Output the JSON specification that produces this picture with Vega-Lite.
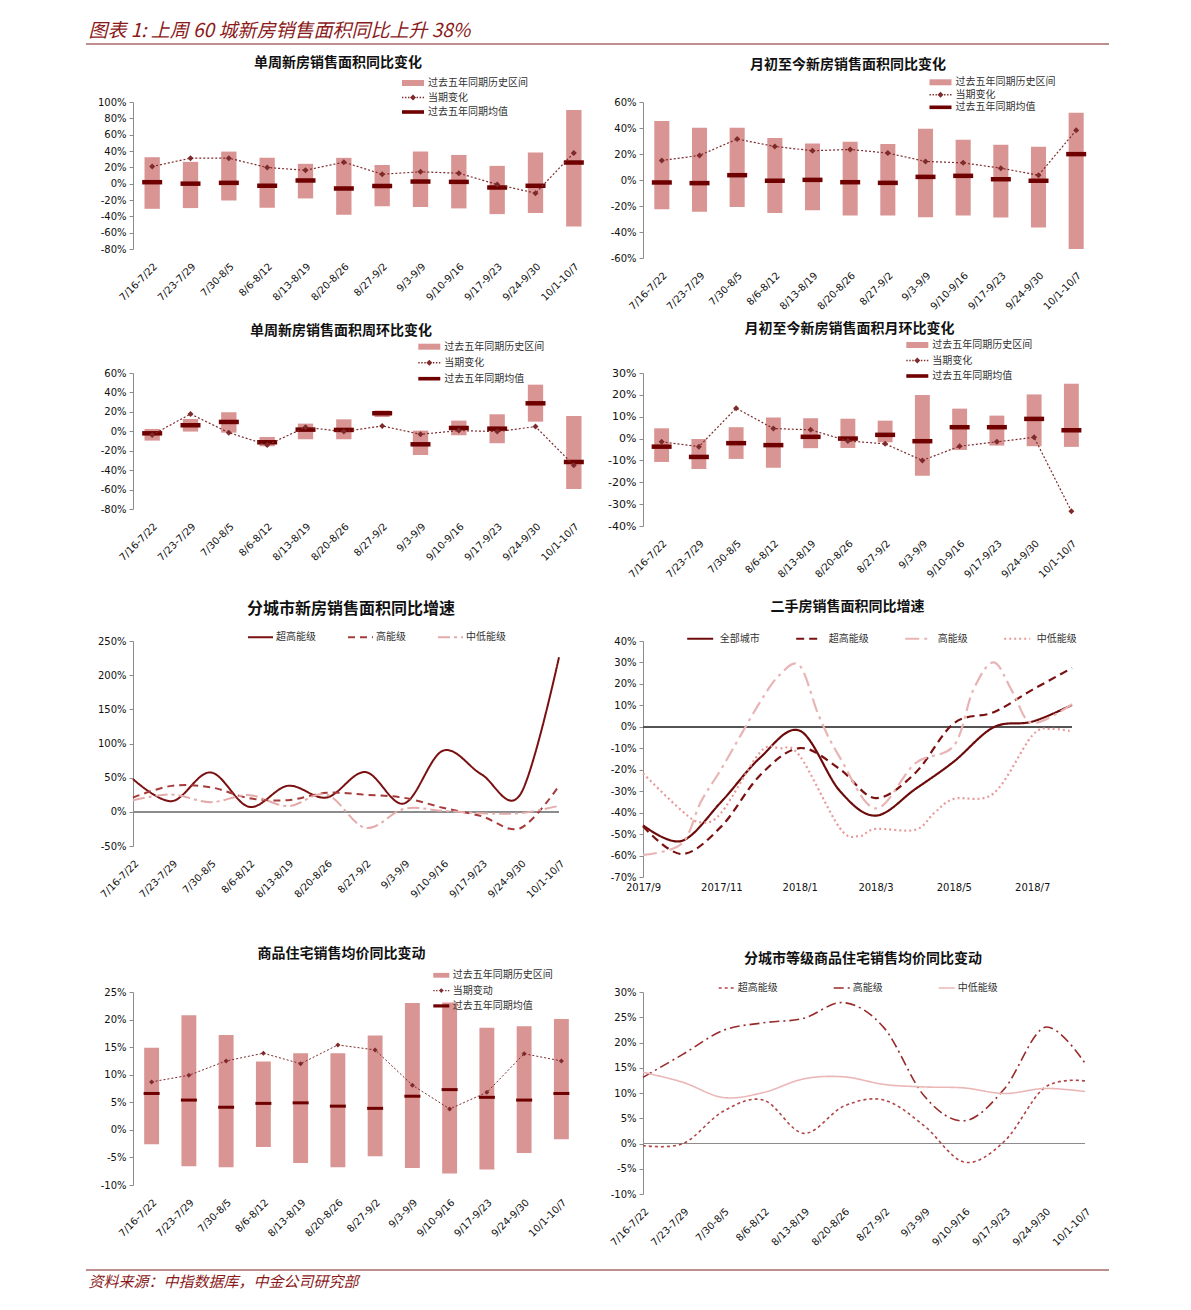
{
  "$schema": "https://vega.github.io/schema/vega-lite/v6.json",
  "background": "white",
  "padding": {"left": 85, "top": 22, "right": 5, "bottom": 5},
  "config": {
    "view": {"stroke": null},
    "font": "DejaVu Sans",
    "title": {"font": "Noto Sans CJK SC", "fontSize": 14, "fontWeight": "bold", "color": "#111111"},
    "axis": {"labelFont": "DejaVu Sans", "labelFontSize": 10, "labelColor": "#111111", "grid": false},
    "axisY": {"domainColor": "#8c8c8c", "tickColor": "#8c8c8c", "tickSize": 4, "labelPadding": 3, "labelOverlap": false},
    "axisX": {"domain": false, "ticks": false, "labelAngle": -45, "labelAlign": "right", "labelBaseline": "top", "labelPadding": 12, "labelOverlap": false},
    "legend": {"labelFont": "Noto Sans CJK SC", "labelFontSize": 10, "labelColor": "#333333", "padding": 0, "title": null}
  },
  "spacing": 11,
  "resolve": {
    "scale": {"x": "independent", "y": "independent", "color": "independent", "strokeDash": "independent"},
    "axis": {"x": "independent", "y": "independent"},
    "legend": {"color": "independent", "strokeDash": "independent"}
  },
  "vconcat": [
    {
      "width": 976, "height": 1,
      "title": {"text": "图表 1:  上周 60 城新房销售面积同比上升 38%", "anchor": "start", "dx": 3, "fontSize": 19, "fontStyle": "italic", "fontWeight": "normal", "color": "#8b1a1a", "offset": 2},
      "data": {"values": [{}]},
      "mark": {"type": "rule", "color": "#7b1f1f", "strokeWidth": 1},
      "encoding": {
        "x": {"datum": -0.0482, "type": "quantitative", "scale": {"domain": [0, 1]}, "axis": null},
        "x2": {"datum": 1},
        "y": {"datum": 0, "type": "quantitative", "scale": {"domain": [0, 1]}, "axis": null}
      }
    },
    {
      "columns": 2,
      "bounds": "flush",
      "align": {"row": "each", "column": "all"},
      "spacing": {"row": 115, "column": 50},
      "resolve": {
        "scale": {"x": "independent", "y": "independent", "color": "independent", "strokeDash": "independent"},
        "axis": {"x": "independent", "y": "independent"},
        "legend": {"color": "independent", "strokeDash": "independent"}
      },
      "concat": [
        {
          "width": 460, "height": 147,
          "title": {"text": "单周新房销售面积同比变化", "offset": 8, "dx": -25},
          "data": {"values": [
            {"w": "7/16-7/22", "lo": -30.8, "hi": 32.4, "avg": 1.8, "cur": 21.0},
            {"w": "7/23-7/29", "lo": -29.9, "hi": 26.7, "avg": 0.0, "cur": 31.2},
            {"w": "7/30-8/5", "lo": -20.6, "hi": 39.3, "avg": 1.0, "cur": 31.2},
            {"w": "8/6-8/12", "lo": -29.5, "hi": 31.6, "avg": -2.6, "cur": 19.8},
            {"w": "8/13-8/19", "lo": -18.1, "hi": 24.3, "avg": 3.9, "cur": 16.4},
            {"w": "8/20-8/26", "lo": -38.1, "hi": 31.6, "avg": -5.9, "cur": 26.3},
            {"w": "8/27-9/2", "lo": -27.5, "hi": 23.0, "avg": -3.0, "cur": 11.6},
            {"w": "9/3-9/9", "lo": -28.7, "hi": 39.3, "avg": 2.6, "cur": 14.5},
            {"w": "9/10-9/16", "lo": -30.3, "hi": 35.2, "avg": 2.2, "cur": 12.8},
            {"w": "9/17-9/23", "lo": -37.3, "hi": 21.8, "avg": -4.7, "cur": -1.0},
            {"w": "9/24-9/30", "lo": -36.0, "hi": 38.1, "avg": -2.6, "cur": -11.6},
            {"w": "10/1-10/7", "lo": -52.3, "hi": 90.2, "avg": 25.9, "cur": 37.7}
          ]},
          "encoding": {"x": {"field": "w", "type": "nominal", "sort": null, "title": null, "scale": {"paddingInner": 0, "paddingOuter": 0}}},
          "layer": [
            {"mark": {"type": "bar", "width": {"band": 0.4}},
             "encoding": {
               "y": {"field": "lo", "type": "quantitative", "title": null, "scale": {"domain": [-80, 100], "nice": false}, "axis": {"values": [-80, -60, -40, -20, 0, 20, 40, 60, 80, 100], "tickCount": 50, "labelExpr": "datum.value + '%'", "labelOverlap": false}},
               "y2": {"field": "hi"},
               "color": {"datum": "过去五年同期历史区间", "type": "nominal",
                 "scale": {"domain": ["过去五年同期历史区间", "当期变化", "过去五年同期均值"], "range": ["#d99594", "#7e2a2a", "#6e0000"]},
                 "legend": {"orient": "none", "legendX": 275, "legendY": -24, "direction": "vertical", "symbolSize": 64, "labelOffset": 10, "rowPadding": 4.5,
                   "encode": {"symbols": {"update": {
                     "shape": {"signal": "datum.value === '过去五年同期历史区间' ? 'M-2.75,-0.75H2.75V0.75H-2.75Z' : (datum.value === '过去五年同期均值' ? 'M-2.75,-0.45H2.75V0.45H-2.75Z' : 'M-2.75,-0.18h0.35v0.36h-0.35Z M-2,-0.18h0.35v0.36h-0.35Z M-1.25,-0.18h0.35v0.36h-0.35Z M0.9,-0.18h0.35v0.36h-0.35Z M1.65,-0.18h0.35v0.36h-0.35Z M2.4,-0.18h0.35v0.36h-0.35Z M0,-0.75L0.75,0L0,0.75L-0.75,0Z')"},
                     "fill": {"signal": "datum.value === '过去五年同期历史区间' ? '#d99594' : (datum.value === '过去五年同期均值' ? '#6e0000' : '#7e2a2a')"},
                     "stroke": {"value": "transparent"}, "strokeWidth": {"value": 0}, "opacity": {"value": 1}, "fillOpacity": {"value": 1}
                   }}}}}
             }},
            {"mark": {"type": "rule", "color": "#8c8c8c", "strokeWidth": 1}, "encoding": {"y": {"datum": 0, "type": "quantitative"}}},
            {"mark": {"type": "tick", "thickness": 4.5, "size": 20, "opacity": 1}, "encoding": {"y": {"field": "avg", "type": "quantitative"}, "color": {"datum": "过去五年同期均值", "type": "nominal"}}},
            {"mark": {"type": "line", "strokeDash": [2, 2], "strokeWidth": 1.2}, "encoding": {"y": {"field": "cur", "type": "quantitative"}, "color": {"datum": "当期变化", "type": "nominal"}}},
            {"mark": {"type": "point", "shape": "diamond", "filled": true, "size": 36, "opacity": 1}, "encoding": {"y": {"field": "cur", "type": "quantitative"}, "color": {"datum": "当期变化", "type": "nominal"}}}
          ]
        },
        {
          "width": 452, "height": 156,
          "title": {"text": "月初至今新房销售面积同比变化", "offset": 5, "dx": -21},
          "data": {"values": [
            {"w": "7/16-7/22", "lo": -22.5, "hi": 45.4, "avg": -1.9, "cur": 15.0},
            {"w": "7/23-7/29", "lo": -24.5, "hi": 40.2, "avg": -2.4, "cur": 18.9},
            {"w": "7/30-8/5", "lo": -20.7, "hi": 40.2, "avg": 3.7, "cur": 31.5},
            {"w": "8/6-8/12", "lo": -25.3, "hi": 32.3, "avg": -0.6, "cur": 25.8},
            {"w": "8/13-8/19", "lo": -23.2, "hi": 28.1, "avg": 0.1, "cur": 22.5},
            {"w": "8/20-8/26", "lo": -27.4, "hi": 29.4, "avg": -1.7, "cur": 23.5},
            {"w": "8/27-9/2", "lo": -27.4, "hi": 27.6, "avg": -2.2, "cur": 20.7},
            {"w": "9/3-9/9", "lo": -28.7, "hi": 39.5, "avg": 2.4, "cur": 14.3},
            {"w": "9/10-9/16", "lo": -27.4, "hi": 31.0, "avg": 3.2, "cur": 13.2},
            {"w": "9/17-9/23", "lo": -28.9, "hi": 27.1, "avg": 0.6, "cur": 9.1},
            {"w": "9/24-9/30", "lo": -36.6, "hi": 25.6, "avg": -0.6, "cur": 3.7},
            {"w": "10/1-10/7", "lo": -53.1, "hi": 51.8, "avg": 19.9, "cur": 38.2}
          ]},
          "encoding": {"x": {"field": "w", "type": "nominal", "sort": null, "title": null, "scale": {"paddingInner": 0, "paddingOuter": 0}}},
          "layer": [
            {"mark": {"type": "bar", "width": {"band": 0.4}},
             "encoding": {
               "y": {"field": "lo", "type": "quantitative", "title": null, "scale": {"domain": [-60, 60], "nice": false}, "axis": {"values": [-60, -40, -20, 0, 20, 40, 60], "tickCount": 50, "labelExpr": "datum.value + '%'", "labelOverlap": false}},
               "y2": {"field": "hi"},
               "color": {"datum": "过去五年同期历史区间", "type": "nominal",
                 "scale": {"domain": ["过去五年同期历史区间", "当期变化", "过去五年同期均值"], "range": ["#d99594", "#7e2a2a", "#6e0000"]},
                 "legend": {"orient": "none", "legendX": 292.5, "legendY": -24.7, "direction": "vertical", "symbolSize": 64, "labelOffset": 10, "rowPadding": 2.5,
                   "encode": {"symbols": {"update": {
                     "shape": {"signal": "datum.value === '过去五年同期历史区间' ? 'M-2.75,-0.75H2.75V0.75H-2.75Z' : (datum.value === '过去五年同期均值' ? 'M-2.75,-0.45H2.75V0.45H-2.75Z' : 'M-2.75,-0.18h0.35v0.36h-0.35Z M-2,-0.18h0.35v0.36h-0.35Z M-1.25,-0.18h0.35v0.36h-0.35Z M0.9,-0.18h0.35v0.36h-0.35Z M1.65,-0.18h0.35v0.36h-0.35Z M2.4,-0.18h0.35v0.36h-0.35Z M0,-0.75L0.75,0L0,0.75L-0.75,0Z')"},
                     "fill": {"signal": "datum.value === '过去五年同期历史区间' ? '#d99594' : (datum.value === '过去五年同期均值' ? '#6e0000' : '#7e2a2a')"},
                     "stroke": {"value": "transparent"}, "strokeWidth": {"value": 0}, "opacity": {"value": 1}, "fillOpacity": {"value": 1}
                   }}}}}
             }},
            {"mark": {"type": "rule", "color": "#8c8c8c", "strokeWidth": 1}, "encoding": {"y": {"datum": 0, "type": "quantitative"}}},
            {"mark": {"type": "tick", "thickness": 4.5, "size": 20, "opacity": 1}, "encoding": {"y": {"field": "avg", "type": "quantitative"}, "color": {"datum": "过去五年同期均值", "type": "nominal"}}},
            {"mark": {"type": "line", "strokeDash": [2, 2], "strokeWidth": 1.2}, "encoding": {"y": {"field": "cur", "type": "quantitative"}, "color": {"datum": "当期变化", "type": "nominal"}}},
            {"mark": {"type": "point", "shape": "diamond", "filled": true, "size": 36, "opacity": 1}, "encoding": {"y": {"field": "cur", "type": "quantitative"}, "color": {"datum": "当期变化", "type": "nominal"}}}
          ]
        },
        {
          "width": 460, "height": 136,
          "title": {"text": "单周新房销售面积周环比变化", "offset": 3.7, "dx": -22},
          "data": {"values": [
            {"w": "7/16-7/22", "lo": -9.6, "hi": 2.4, "avg": -2.1, "cur": -3.8},
            {"w": "7/23-7/29", "lo": -0.3, "hi": 12.7, "avg": 6.2, "cur": 17.8},
            {"w": "7/30-8/5", "lo": -1.4, "hi": 19.6, "avg": 9.6, "cur": -1.4},
            {"w": "8/6-8/12", "lo": -15.4, "hi": -5.8, "avg": -11.3, "cur": -14.1},
            {"w": "8/13-8/19", "lo": -8.2, "hi": 7.9, "avg": 1.7, "cur": 4.1},
            {"w": "8/20-8/26", "lo": -8.2, "hi": 12.3, "avg": 1.4, "cur": -0.3},
            {"w": "8/27-9/2", "lo": 14.8, "hi": 21.3, "avg": 18.5, "cur": 5.5},
            {"w": "9/3-9/9", "lo": -24.4, "hi": 0.7, "avg": -13.4, "cur": -3.1},
            {"w": "9/10-9/16", "lo": -4.1, "hi": 11.0, "avg": 3.4, "cur": 0.7},
            {"w": "9/17-9/23", "lo": -12.3, "hi": 17.5, "avg": 2.7, "cur": -0.3},
            {"w": "9/24-9/30", "lo": 9.9, "hi": 48.0, "avg": 28.8, "cur": 4.8},
            {"w": "10/1-10/7", "lo": -59.3, "hi": 15.8, "avg": -31.6, "cur": -35.0}
          ]},
          "encoding": {"x": {"field": "w", "type": "nominal", "sort": null, "title": null, "scale": {"paddingInner": 0, "paddingOuter": 0}}},
          "layer": [
            {"mark": {"type": "bar", "width": {"band": 0.4}},
             "encoding": {
               "y": {"field": "lo", "type": "quantitative", "title": null, "scale": {"domain": [-80, 60], "nice": false}, "axis": {"values": [-80, -60, -40, -20, 0, 20, 40, 60], "tickCount": 50, "labelExpr": "datum.value + '%'", "labelOverlap": false}},
               "y2": {"field": "hi"},
               "color": {"datum": "过去五年同期历史区间", "type": "nominal",
                 "scale": {"domain": ["过去五年同期历史区间", "当期变化", "过去五年同期均值"], "range": ["#d99594", "#7e2a2a", "#6e0000"]},
                 "legend": {"orient": "none", "legendX": 291.3, "legendY": -31.3, "direction": "vertical", "symbolSize": 64, "labelOffset": 10, "rowPadding": 6,
                   "encode": {"symbols": {"update": {
                     "shape": {"signal": "datum.value === '过去五年同期历史区间' ? 'M-2.75,-0.75H2.75V0.75H-2.75Z' : (datum.value === '过去五年同期均值' ? 'M-2.75,-0.45H2.75V0.45H-2.75Z' : 'M-2.75,-0.18h0.35v0.36h-0.35Z M-2,-0.18h0.35v0.36h-0.35Z M-1.25,-0.18h0.35v0.36h-0.35Z M0.9,-0.18h0.35v0.36h-0.35Z M1.65,-0.18h0.35v0.36h-0.35Z M2.4,-0.18h0.35v0.36h-0.35Z M0,-0.75L0.75,0L0,0.75L-0.75,0Z')"},
                     "fill": {"signal": "datum.value === '过去五年同期历史区间' ? '#d99594' : (datum.value === '过去五年同期均值' ? '#6e0000' : '#7e2a2a')"},
                     "stroke": {"value": "transparent"}, "strokeWidth": {"value": 0}, "opacity": {"value": 1}, "fillOpacity": {"value": 1}
                   }}}}}
             }},
            {"mark": {"type": "rule", "color": "#8c8c8c", "strokeWidth": 1}, "encoding": {"y": {"datum": 0, "type": "quantitative"}}},
            {"mark": {"type": "tick", "thickness": 4.5, "size": 20, "opacity": 1}, "encoding": {"y": {"field": "avg", "type": "quantitative"}, "color": {"datum": "过去五年同期均值", "type": "nominal"}}},
            {"mark": {"type": "line", "strokeDash": [2, 2], "strokeWidth": 1.2}, "encoding": {"y": {"field": "cur", "type": "quantitative"}, "color": {"datum": "当期变化", "type": "nominal"}}},
            {"mark": {"type": "point", "shape": "diamond", "filled": true, "size": 36, "opacity": 1}, "encoding": {"y": {"field": "cur", "type": "quantitative"}, "color": {"datum": "当期变化", "type": "nominal"}}}
          ]
        },
        {
          "width": 447, "height": 153,
          "title": {"text": "月初至今新房销售面积月环比变化", "offset": 4, "dx": -17},
          "data": {"values": [
            {"w": "7/16-7/22", "lo": -10.7, "hi": 4.7, "avg": -3.7, "cur": -1.5},
            {"w": "7/23-7/29", "lo": -13.9, "hi": -0.2, "avg": -8.4, "cur": -3.7},
            {"w": "7/30-8/5", "lo": -9.3, "hi": 5.2, "avg": -2.1, "cur": 13.9},
            {"w": "8/6-8/12", "lo": -13.4, "hi": 9.6, "avg": -3.0, "cur": 4.6},
            {"w": "8/13-8/19", "lo": -4.4, "hi": 9.3, "avg": 0.8, "cur": 4.0},
            {"w": "8/20-8/26", "lo": -4.3, "hi": 9.1, "avg": 0.0, "cur": -1.1},
            {"w": "8/27-9/2", "lo": -1.7, "hi": 8.2, "avg": 1.7, "cur": -2.4},
            {"w": "9/3-9/9", "lo": -17.0, "hi": 19.9, "avg": -1.2, "cur": -10.0},
            {"w": "9/10-9/16", "lo": -5.2, "hi": 13.7, "avg": 5.2, "cur": -3.5},
            {"w": "9/17-9/23", "lo": -3.2, "hi": 10.5, "avg": 5.2, "cur": -1.5},
            {"w": "9/24-9/30", "lo": -3.5, "hi": 20.2, "avg": 9.0, "cur": 0.6},
            {"w": "10/1-10/7", "lo": -3.8, "hi": 25.1, "avg": 3.8, "cur": -33.2}
          ]},
          "encoding": {"x": {"field": "w", "type": "nominal", "sort": null, "title": null, "scale": {"paddingInner": 0, "paddingOuter": 0}}},
          "layer": [
            {"mark": {"type": "bar", "width": {"band": 0.4}},
             "encoding": {
               "y": {"field": "lo", "type": "quantitative", "title": null, "scale": {"domain": [-40, 30], "nice": false}, "axis": {"values": [-40, -30, -20, -10, 0, 10, 20, 30], "tickCount": 50, "labelExpr": "datum.value + '%'", "labelFontSize": 11, "labelOverlap": false}},
               "y2": {"field": "hi"},
               "color": {"datum": "过去五年同期历史区间", "type": "nominal",
                 "scale": {"domain": ["过去五年同期历史区间", "当期变化", "过去五年同期均值"], "range": ["#d99594", "#7e2a2a", "#6e0000"]},
                 "legend": {"orient": "none", "legendX": 269.3, "legendY": -33, "direction": "vertical", "symbolSize": 64, "labelOffset": 10, "rowPadding": 5.5,
                   "encode": {"symbols": {"update": {
                     "shape": {"signal": "datum.value === '过去五年同期历史区间' ? 'M-2.75,-0.75H2.75V0.75H-2.75Z' : (datum.value === '过去五年同期均值' ? 'M-2.75,-0.45H2.75V0.45H-2.75Z' : 'M-2.75,-0.18h0.35v0.36h-0.35Z M-2,-0.18h0.35v0.36h-0.35Z M-1.25,-0.18h0.35v0.36h-0.35Z M0.9,-0.18h0.35v0.36h-0.35Z M1.65,-0.18h0.35v0.36h-0.35Z M2.4,-0.18h0.35v0.36h-0.35Z M0,-0.75L0.75,0L0,0.75L-0.75,0Z')"},
                     "fill": {"signal": "datum.value === '过去五年同期历史区间' ? '#d99594' : (datum.value === '过去五年同期均值' ? '#6e0000' : '#7e2a2a')"},
                     "stroke": {"value": "transparent"}, "strokeWidth": {"value": 0}, "opacity": {"value": 1}, "fillOpacity": {"value": 1}
                   }}}}}
             }},
            {"mark": {"type": "rule", "color": "#8c8c8c", "strokeWidth": 1}, "encoding": {"y": {"datum": 0, "type": "quantitative"}}},
            {"mark": {"type": "tick", "thickness": 4.5, "size": 20, "opacity": 1}, "encoding": {"y": {"field": "avg", "type": "quantitative"}, "color": {"datum": "过去五年同期均值", "type": "nominal"}}},
            {"mark": {"type": "line", "strokeDash": [2, 2], "strokeWidth": 1.2}, "encoding": {"y": {"field": "cur", "type": "quantitative"}, "color": {"datum": "当期变化", "type": "nominal"}}},
            {"mark": {"type": "point", "shape": "diamond", "filled": true, "size": 36, "opacity": 1}, "encoding": {"y": {"field": "cur", "type": "quantitative"}, "color": {"datum": "当期变化", "type": "nominal"}}}
          ]
        },
        {
          "width": 426, "height": 205,
          "title": {"text": "分城市新房销售面积同比增速", "offset": 6.5, "fontSize": 16, "dx": 5},
          "data": {"values": [
            {"w": "7/16-7/22", "s": "超高能级", "v": 47.9}, {"w": "7/23-7/29", "s": "超高能级", "v": 15.6}, {"w": "7/30-8/5", "s": "超高能级", "v": 57.7},
            {"w": "8/6-8/12", "s": "超高能级", "v": 7.3}, {"w": "8/13-8/19", "s": "超高能级", "v": 38.1}, {"w": "8/20-8/26", "s": "超高能级", "v": 21.0},
            {"w": "8/27-9/2", "s": "超高能级", "v": 58.2}, {"w": "9/3-9/9", "s": "超高能级", "v": 12.2}, {"w": "9/10-9/16", "s": "超高能级", "v": 89.4},
            {"w": "9/17-9/23", "s": "超高能级", "v": 54.7}, {"w": "9/24-9/30", "s": "超高能级", "v": 25.4}, {"w": "10/1-10/7", "s": "超高能级", "v": 226.3},
            {"w": "7/16-7/22", "s": "高能级", "v": 21}, {"w": "7/23-7/29", "s": "高能级", "v": 38}, {"w": "7/30-8/5", "s": "高能级", "v": 36},
            {"w": "8/6-8/12", "s": "高能级", "v": 20}, {"w": "8/13-8/19", "s": "高能级", "v": 17}, {"w": "8/20-8/26", "s": "高能级", "v": 28},
            {"w": "8/27-9/2", "s": "高能级", "v": 25}, {"w": "9/3-9/9", "s": "高能级", "v": 20.5}, {"w": "9/10-9/16", "s": "高能级", "v": 6},
            {"w": "9/17-9/23", "s": "高能级", "v": -6.4}, {"w": "9/24-9/30", "s": "高能级", "v": -24}, {"w": "10/1-10/7", "s": "高能级", "v": 38},
            {"w": "7/16-7/22", "s": "中低能级", "v": 17}, {"w": "7/23-7/29", "s": "中低能级", "v": 25.4}, {"w": "7/30-8/5", "s": "中低能级", "v": 14.2},
            {"w": "8/6-8/12", "s": "中低能级", "v": 24.4}, {"w": "8/13-8/19", "s": "中低能级", "v": 8.3}, {"w": "8/20-8/26", "s": "中低能级", "v": 25.4},
            {"w": "8/27-9/2", "s": "中低能级", "v": -23.5}, {"w": "9/3-9/9", "s": "中低能级", "v": 4.4}, {"w": "9/10-9/16", "s": "中低能级", "v": 1.5},
            {"w": "9/17-9/23", "s": "中低能级", "v": -2}, {"w": "9/24-9/30", "s": "中低能级", "v": -2}, {"w": "10/1-10/7", "s": "中低能级", "v": 8.8}
          ]},
          "layer": [
            {"mark": {"type": "rule", "color": "#8c8c8c", "strokeWidth": 1}, "encoding": {"y": {"datum": 0, "type": "quantitative"}}},
            {"mark": {"type": "line", "interpolate": "cardinal", "strokeWidth": 2},
             "encoding": {
               "x": {"field": "w", "type": "ordinal", "sort": null, "title": null, "scale": {"type": "point", "padding": 0}},
               "y": {"field": "v", "type": "quantitative", "title": null, "scale": {"domain": [-50, 250], "nice": false}, "axis": {"values": [-50, 0, 50, 100, 150, 200, 250], "tickCount": 50, "labelExpr": "datum.value + '%'", "labelOverlap": false}},
               "color": {"field": "s", "type": "nominal", "scale": {"domain": ["超高能级", "高能级", "中低能级"], "range": ["#7a1010", "#a63b3b", "#e4abab"]},
                 "legend": {"orient": "none", "legendX": 114, "legendY": -17.5, "direction": "horizontal", "symbolSize": 625, "symbolStrokeWidth": 2, "labelOffset": 2, "columnPadding": 28}},
               "strokeDash": {"field": "s", "type": "nominal", "scale": {"domain": ["超高能级", "高能级", "中低能级"], "range": [[1, 0], [7, 5], [12, 4, 3, 4]]},
                 "legend": {"orient": "none", "legendX": 114, "legendY": -17.5, "direction": "horizontal", "symbolSize": 625, "symbolStrokeWidth": 2, "labelOffset": 2, "columnPadding": 28}}
             }}
          ]
        },
        {
          "width": 429, "height": 236,
          "title": {"text": "二手房销售面积同比增速", "offset": 10, "dx": -10},
          "data": {"values": [
            {"d": "2017-09-01", "s": "全部城市", "v": -45.9}, {"d": "2017-10-01", "s": "全部城市", "v": -53.2}, {"d": "2017-11-01", "s": "全部城市", "v": -34.9},
            {"d": "2017-12-01", "s": "全部城市", "v": -14.5}, {"d": "2018-01-01", "s": "全部城市", "v": -1.8}, {"d": "2018-02-01", "s": "全部城市", "v": -29.7},
            {"d": "2018-03-01", "s": "全部城市", "v": -41.4}, {"d": "2018-04-01", "s": "全部城市", "v": -29.0}, {"d": "2018-05-01", "s": "全部城市", "v": -16.2},
            {"d": "2018-06-01", "s": "全部城市", "v": -0.2}, {"d": "2018-07-01", "s": "全部城市", "v": 2.4}, {"d": "2018-08-01", "s": "全部城市", "v": 10.2},
            {"d": "2017-09-01", "s": "超高能级", "v": -46.4}, {"d": "2017-10-01", "s": "超高能级", "v": -59.3}, {"d": "2017-11-01", "s": "超高能级", "v": -46.4},
            {"d": "2017-12-01", "s": "超高能级", "v": -22.7}, {"d": "2018-01-01", "s": "超高能级", "v": -9.9}, {"d": "2018-02-01", "s": "超高能级", "v": -19.6},
            {"d": "2018-03-01", "s": "超高能级", "v": -33.2}, {"d": "2018-04-01", "s": "超高能级", "v": -21.5}, {"d": "2018-05-01", "s": "超高能级", "v": 1.6},
            {"d": "2018-06-01", "s": "超高能级", "v": 6.8}, {"d": "2018-07-01", "s": "超高能级", "v": 17.2}, {"d": "2018-08-01", "s": "超高能级", "v": 27.4},
            {"d": "2017-09-01", "s": "高能级", "v": -59.7}, {"d": "2017-10-01", "s": "高能级", "v": -54.5}, {"d": "2017-10-16", "s": "高能级", "v": -35},
            {"d": "2017-11-01", "s": "高能级", "v": -19.6}, {"d": "2017-11-16", "s": "高能级", "v": -4}, {"d": "2017-12-01", "s": "高能级", "v": 11.4},
            {"d": "2017-12-16", "s": "高能级", "v": 24}, {"d": "2018-01-01", "s": "高能级", "v": 28.5}, {"d": "2018-01-16", "s": "高能级", "v": 5},
            {"d": "2018-02-01", "s": "高能级", "v": -14}, {"d": "2018-03-01", "s": "高能级", "v": -38}, {"d": "2018-04-01", "s": "高能级", "v": -17},
            {"d": "2018-05-01", "s": "高能级", "v": -8.8}, {"d": "2018-05-16", "s": "高能级", "v": 17}, {"d": "2018-06-01", "s": "高能级", "v": 30},
            {"d": "2018-06-16", "s": "高能级", "v": 16}, {"d": "2018-07-01", "s": "高能级", "v": 1.8}, {"d": "2018-08-01", "s": "高能级", "v": 10.6},
            {"d": "2017-09-01", "s": "中低能级", "v": -21.7}, {"d": "2017-10-01", "s": "中低能级", "v": -39}, {"d": "2017-10-16", "s": "中低能级", "v": -44.5},
            {"d": "2017-11-01", "s": "中低能级", "v": -40}, {"d": "2017-12-01", "s": "中低能级", "v": -12}, {"d": "2017-12-16", "s": "中低能级", "v": -10},
            {"d": "2018-01-01", "s": "中低能级", "v": -13.5}, {"d": "2018-02-01", "s": "中低能级", "v": -47}, {"d": "2018-02-16", "s": "中低能级", "v": -51},
            {"d": "2018-03-01", "s": "中低能级", "v": -47.6}, {"d": "2018-04-01", "s": "中低能级", "v": -48}, {"d": "2018-04-16", "s": "中低能级", "v": -40},
            {"d": "2018-05-01", "s": "中低能级", "v": -33.6}, {"d": "2018-06-01", "s": "中低能级", "v": -31}, {"d": "2018-07-01", "s": "中低能级", "v": -4.1},
            {"d": "2018-07-16", "s": "中低能级", "v": -1}, {"d": "2018-08-01", "s": "中低能级", "v": -2.2}
          ]},
          "layer": [
            {"mark": {"type": "rule", "color": "#555555", "strokeWidth": 1}, "encoding": {"y": {"datum": 0, "type": "quantitative"}}},
            {"mark": {"type": "line", "interpolate": "cardinal", "strokeWidth": 2.2},
             "encoding": {
               "x": {"field": "d", "type": "temporal", "title": null, "scale": {"type": "utc"},
                 "axis": {"labelExpr": "utcFormat(datum.value, '%Y/%-m')", "tickCount": {"interval": "month", "step": 2}, "labelAngle": 0, "labelAlign": "center", "labelBaseline": "top", "labelPadding": 5, "labelFlush": false, "labelOverlap": false}},
               "y": {"field": "v", "type": "quantitative", "title": null, "scale": {"domain": [-70, 40], "nice": false}, "axis": {"values": [-70, -60, -50, -40, -30, -20, -10, 0, 10, 20, 30, 40], "tickCount": 50, "labelExpr": "datum.value + '%'", "labelOverlap": false}},
               "color": {"field": "s", "type": "nominal", "scale": {"domain": ["全部城市", "超高能级", "高能级", "中低能级"], "range": ["#6d0b0b", "#7a1010", "#e8b4b4", "#e89a9a"]},
                 "legend": {"orient": "none", "legendX": 42.7, "legendY": -17, "direction": "horizontal", "symbolSize": 676, "symbolStrokeWidth": 2.2, "labelOffset": 5, "columnPadding": 32}},
               "strokeDash": {"field": "s", "type": "nominal", "scale": {"domain": ["全部城市", "超高能级", "高能级", "中低能级"], "range": [[1, 0], [8, 5], [14, 5, 3, 5], [2, 3]]},
                 "legend": {"orient": "none", "legendX": 42.7, "legendY": -17, "direction": "horizontal", "symbolSize": 676, "symbolStrokeWidth": 2.2, "labelOffset": 5, "columnPadding": 32}}
             }}
          ]
        },
        {
          "width": 447, "height": 193,
          "title": {"text": "商品住宅销售均价同比变动", "offset": 9, "dx": -15},
          "data": {"values": [
            {"w": "7/16-7/22", "lo": -2.6, "hi": 14.9, "avg": 6.6, "cur": 8.7},
            {"w": "7/23-7/29", "lo": -6.6, "hi": 20.8, "avg": 5.4, "cur": 9.9},
            {"w": "7/30-8/5", "lo": -6.8, "hi": 17.2, "avg": 4.1, "cur": 12.5},
            {"w": "8/6-8/12", "lo": -3.1, "hi": 12.4, "avg": 4.8, "cur": 13.9},
            {"w": "8/13-8/19", "lo": -6.0, "hi": 13.9, "avg": 4.9, "cur": 12.0},
            {"w": "8/20-8/26", "lo": -6.8, "hi": 13.9, "avg": 4.3, "cur": 15.4},
            {"w": "8/27-9/2", "lo": -4.8, "hi": 17.1, "avg": 3.9, "cur": 14.5},
            {"w": "9/3-9/9", "lo": -6.9, "hi": 23.0, "avg": 6.1, "cur": 8.1},
            {"w": "9/10-9/16", "lo": -7.9, "hi": 23.1, "avg": 7.3, "cur": 3.8},
            {"w": "9/17-9/23", "lo": -7.2, "hi": 18.5, "avg": 5.9, "cur": 6.8},
            {"w": "9/24-9/30", "lo": -4.2, "hi": 18.8, "avg": 5.4, "cur": 13.8},
            {"w": "10/1-10/7", "lo": -1.7, "hi": 20.1, "avg": 6.6, "cur": 12.5}
          ]},
          "encoding": {"x": {"field": "w", "type": "nominal", "sort": null, "title": null, "scale": {"paddingInner": 0, "paddingOuter": 0}}},
          "layer": [
            {"mark": {"type": "bar", "width": {"band": 0.4}},
             "encoding": {
               "y": {"field": "lo", "type": "quantitative", "title": null, "scale": {"domain": [-10, 25], "nice": false}, "axis": {"values": [-10, -5, 0, 5, 10, 15, 20, 25], "tickCount": 50, "labelExpr": "datum.value + '%'", "labelOverlap": false}},
               "y2": {"field": "hi"},
               "color": {"datum": "过去五年同期历史区间", "type": "nominal",
                 "scale": {"domain": ["过去五年同期历史区间", "当期变动", "过去五年同期均值"], "range": ["#d99594", "#7e2a2a", "#6e0000"]},
                 "legend": {"orient": "none", "legendX": 303.3, "legendY": -21.7, "direction": "vertical", "symbolSize": 64, "labelOffset": 6.4, "rowPadding": 5.3,
                   "encode": {"symbols": {"update": {
                     "shape": {"signal": "datum.value === '过去五年同期历史区间' ? 'M-2,-0.6H2V0.6H-2Z' : (datum.value === '过去五年同期均值' ? 'M-2,-0.4H2V0.4H-2Z' : 'M-2,-0.18h0.35v0.36h-0.35Z M-1.3,-0.18h0.35v0.36h-0.35Z M0.95,-0.18h0.35v0.36h-0.35Z M1.65,-0.18h0.35v0.36h-0.35Z M0,-0.6L0.6,0L0,0.6L-0.6,0Z')"},
                     "fill": {"signal": "datum.value === '过去五年同期历史区间' ? '#d99594' : (datum.value === '过去五年同期均值' ? '#6e0000' : '#7e2a2a')"},
                     "stroke": {"value": "transparent"}, "strokeWidth": {"value": 0}, "opacity": {"value": 1}, "fillOpacity": {"value": 1}
                   }}}}}
             }},
            {"mark": {"type": "rule", "color": "#8c8c8c", "strokeWidth": 1}, "encoding": {"y": {"datum": 0, "type": "quantitative"}}},
            {"mark": {"type": "tick", "thickness": 3, "size": 16, "opacity": 1}, "encoding": {"y": {"field": "avg", "type": "quantitative"}, "color": {"datum": "过去五年同期均值", "type": "nominal"}}},
            {"mark": {"type": "line", "strokeDash": [2, 2], "strokeWidth": 1}, "encoding": {"y": {"field": "cur", "type": "quantitative"}, "color": {"datum": "当期变动", "type": "nominal"}}},
            {"mark": {"type": "point", "shape": "diamond", "filled": true, "size": 25, "opacity": 1}, "encoding": {"y": {"field": "cur", "type": "quantitative"}, "color": {"datum": "当期变动", "type": "nominal"}}}
          ]
        },
        {
          "width": 442, "height": 202,
          "title": {"text": "分城市等级商品住宅销售均价同比变动", "offset": 13, "dx": -1},
          "data": {"values": [
            {"w": "7/16-7/22", "s": "超高能级", "v": -0.4}, {"w": "7/23-7/29", "s": "超高能级", "v": 0.0}, {"w": "7/30-8/5", "s": "超高能级", "v": 6.4},
            {"w": "8/6-8/12", "s": "超高能级", "v": 8.6}, {"w": "8/13-8/19", "s": "超高能级", "v": 2.0}, {"w": "8/20-8/26", "s": "超高能级", "v": 7.4},
            {"w": "8/27-9/2", "s": "超高能级", "v": 8.6}, {"w": "9/3-9/9", "s": "超高能级", "v": 3.5}, {"w": "9/10-9/16", "s": "超高能级", "v": -3.7},
            {"w": "9/17-9/23", "s": "超高能级", "v": 0.5}, {"w": "9/24-9/30", "s": "超高能级", "v": 11.1}, {"w": "10/1-10/7", "s": "超高能级", "v": 12.4},
            {"w": "7/16-7/22", "s": "高能级", "v": 13.1}, {"w": "7/23-7/29", "s": "高能级", "v": 17.7}, {"w": "7/30-8/5", "s": "高能级", "v": 22.4},
            {"w": "8/6-8/12", "s": "高能级", "v": 23.9}, {"w": "8/13-8/19", "s": "高能级", "v": 24.8}, {"w": "8/20-8/26", "s": "高能级", "v": 27.9},
            {"w": "8/27-9/2", "s": "高能级", "v": 22.9}, {"w": "9/3-9/9", "s": "高能级", "v": 9.4}, {"w": "9/10-9/16", "s": "高能级", "v": 4.5},
            {"w": "9/17-9/23", "s": "高能级", "v": 10.9}, {"w": "9/24-9/30", "s": "高能级", "v": 23.0}, {"w": "10/1-10/7", "s": "高能级", "v": 15.9},
            {"w": "7/16-7/22", "s": "中低能级", "v": 14.1}, {"w": "7/23-7/29", "s": "中低能级", "v": 12.1}, {"w": "7/30-8/5", "s": "中低能级", "v": 9.1},
            {"w": "8/6-8/12", "s": "中低能级", "v": 10.1}, {"w": "8/13-8/19", "s": "中低能级", "v": 12.8}, {"w": "8/20-8/26", "s": "中低能级", "v": 13.2},
            {"w": "8/27-9/2", "s": "中低能级", "v": 11.7}, {"w": "9/3-9/9", "s": "中低能级", "v": 11.2}, {"w": "9/10-9/16", "s": "中低能级", "v": 11.0},
            {"w": "9/17-9/23", "s": "中低能级", "v": 9.9}, {"w": "9/24-9/30", "s": "中低能级", "v": 10.9}, {"w": "10/1-10/7", "s": "中低能级", "v": 10.3}
          ]},
          "layer": [
            {"mark": {"type": "rule", "color": "#8c8c8c", "strokeWidth": 1}, "encoding": {"y": {"datum": 0, "type": "quantitative"}}},
            {"mark": {"type": "line", "interpolate": "cardinal", "strokeWidth": 1.6},
             "encoding": {
               "x": {"field": "w", "type": "ordinal", "sort": null, "title": null, "scale": {"type": "point", "padding": 0}},
               "y": {"field": "v", "type": "quantitative", "title": null, "scale": {"domain": [-10, 30], "nice": false}, "axis": {"values": [-10, -5, 0, 5, 10, 15, 20, 25, 30], "tickCount": 50, "labelExpr": "datum.value + '%'", "labelOverlap": false}},
               "color": {"field": "s", "type": "nominal", "scale": {"domain": ["超高能级", "高能级", "中低能级"], "range": ["#b04646", "#982a2a", "#ebb6b6"]},
                 "legend": {"orient": "none", "legendX": 74.7, "legendY": -13, "direction": "horizontal", "symbolSize": 256, "symbolStrokeWidth": 1.6, "labelOffset": 2, "columnPadding": 52}},
               "strokeDash": {"field": "s", "type": "nominal", "scale": {"domain": ["超高能级", "高能级", "中低能级"], "range": [[3, 3], [10, 4, 2, 4], [1, 0]]},
                 "legend": {"orient": "none", "legendX": 74.7, "legendY": -13, "direction": "horizontal", "symbolSize": 256, "symbolStrokeWidth": 1.6, "labelOffset": 2, "columnPadding": 52}}
             }}
          ]
        }
      ]
    },
    {
      "width": 976, "height": 11,
      "title": {"text": "资料来源：中指数据库，中金公司研究部", "orient": "bottom", "anchor": "start", "dx": 3, "fontSize": 15, "fontStyle": "italic", "fontWeight": "normal", "color": "#8b1a1a", "offset": 4},
      "data": {"values": [{}]},
      "mark": {"type": "rule", "color": "#7b1f1f", "strokeWidth": 1},
      "encoding": {
        "x": {"datum": -0.0482, "type": "quantitative", "scale": {"domain": [0, 1]}, "axis": null},
        "x2": {"datum": 1},
        "y": {"datum": 0, "type": "quantitative", "scale": {"domain": [0, 1]}, "axis": null}
      }
    }
  ]
}
